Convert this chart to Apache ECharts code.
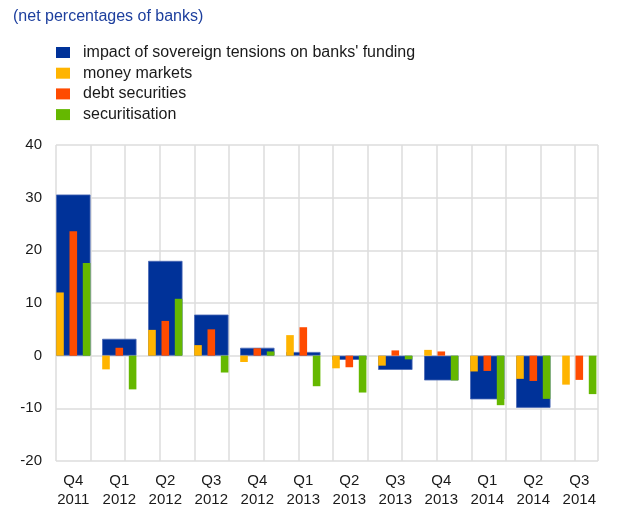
<!DOCTYPE html>
<html>
<head>
<meta charset="utf-8">
<script src="https://cdn.jsdelivr.net/npm/echarts@6/dist/echarts.min.js"></script>
<style>html,body{margin:0;padding:0;background:#fff;}#c{width:630px;height:509px;}</style>
</head>
<body>
<div id="c"></div>
<script>
var categories = ['Q4\n2011','Q1\n2012','Q2\n2012','Q3\n2012','Q4\n2012','Q1\n2013','Q2\n2013','Q3\n2013','Q4\n2013','Q1\n2014','Q2\n2014','Q3\n2014'];
var sovereign = [30.6, 3.2, 18.0, 7.8, 1.5, 0.7, -0.8, -2.7, -4.7, -8.3, -9.9, null];
var moneyMarkets = [12.0, -2.6, 4.9, 2.0, -1.2, 3.9, -2.4, -1.9, 1.1, -3.0, -4.4, -5.5];
var debtSecurities = [23.6, 1.5, 6.6, 5.0, 1.4, 5.4, -2.2, 1.0, 0.8, -2.9, -4.8, -4.6];
var securitisation = [17.6, -6.4, 10.8, -3.2, 0.8, -5.8, -7.0, -0.7, -4.7, -9.4, -8.2, -7.3];
var yTicks = [-20, -10, 0, 10, 20, 30, 40];

var FONT = 'Liberation Sans, Arial, sans-serif';
var gridColor = '#dcdcdc';
var chart = echarts.init(document.getElementById('c'), null, {renderer: 'canvas'});
chart.setOption({
  animation: false,
  backgroundColor: '#fff',
  title: {
    text: '(net percentages of banks)', left: 8, top: 4,
    textStyle: {fontFamily: FONT, fontSize: 16, fontWeight: 'normal', color: '#1d3f9e'}
  },
  legend: {
    orient: 'vertical', left: 56, top: 44.5, padding: 0, itemWidth: 14, itemHeight: 11, itemGap: 4.7,
    icon: 'rect',
    itemStyle: {borderWidth: 0},
    textStyle: {fontFamily: FONT, fontSize: 16, lineHeight: 16, color: '#1a1a1a', padding: [0, 0, 0, 8]},
    data: ['impact of sovereign tensions on banks\' funding', 'money markets', 'debt securities', 'securitisation']
  },
  grid: [
    {left: 56, top: 145, width: 542, height: 316},
    {left: 50.3, top: 145, width: 552, height: 316}
  ],
  xAxis: [
    {gridIndex: 0, type: 'value', min: 0, max: 15.66, interval: 1,
     axisLine: {show: false}, axisTick: {show: false}, axisLabel: {show: false},
     splitLine: {show: true, lineStyle: {color: gridColor, width: 1.5}}},
    {gridIndex: 1, type: 'category', data: categories,
     axisLine: {show: false}, axisTick: {show: false}, splitLine: {show: false},
     axisLabel: {fontFamily: FONT, fontSize: 15, color: '#1a1a1a', lineHeight: 19, margin: 10, interval: 0}},
    {gridIndex: 1, type: 'category', data: categories, show: false}
  ],
  yAxis: [
    {gridIndex: 0, type: 'value', min: yTicks[0], max: yTicks[yTicks.length-1], interval: 10,
     axisLine: {show: false}, axisTick: {show: false},
     axisLabel: {fontFamily: FONT, fontSize: 15, color: '#1a1a1a', margin: 14, padding: [4, 0, 0, 0]},
     splitLine: {show: true, lineStyle: {color: gridColor, width: 1.5}}},
    {gridIndex: 1, type: 'value', min: yTicks[0], max: yTicks[yTicks.length-1], interval: 10, show: false,
     splitLine: {show: false}}
  ],
  series: [
    {name: 'impact of sovereign tensions on banks\' funding', type: 'bar', xAxisIndex: 2, yAxisIndex: 1,
     data: sovereign, barWidth: 34.4, z: 2,
     itemStyle: {color: '#003299', borderColor: '#4a68b5', borderWidth: 0.8}},
    {name: 'money markets', type: 'bar', xAxisIndex: 1, yAxisIndex: 1, data: moneyMarkets,
     barWidth: 7.6, barGap: '75%', z: 3, itemStyle: {color: '#FFB400'}},
    {name: 'debt securities', type: 'bar', xAxisIndex: 1, yAxisIndex: 1, data: debtSecurities,
     barWidth: 7.6, barGap: '75%', z: 3, itemStyle: {color: '#FF4B00'}},
    {name: 'securitisation', type: 'bar', xAxisIndex: 1, yAxisIndex: 1, data: securitisation,
     barWidth: 7.6, barGap: '75%', z: 3, itemStyle: {color: '#65B800'}}
  ]
});
</script>
</body>
</html>
